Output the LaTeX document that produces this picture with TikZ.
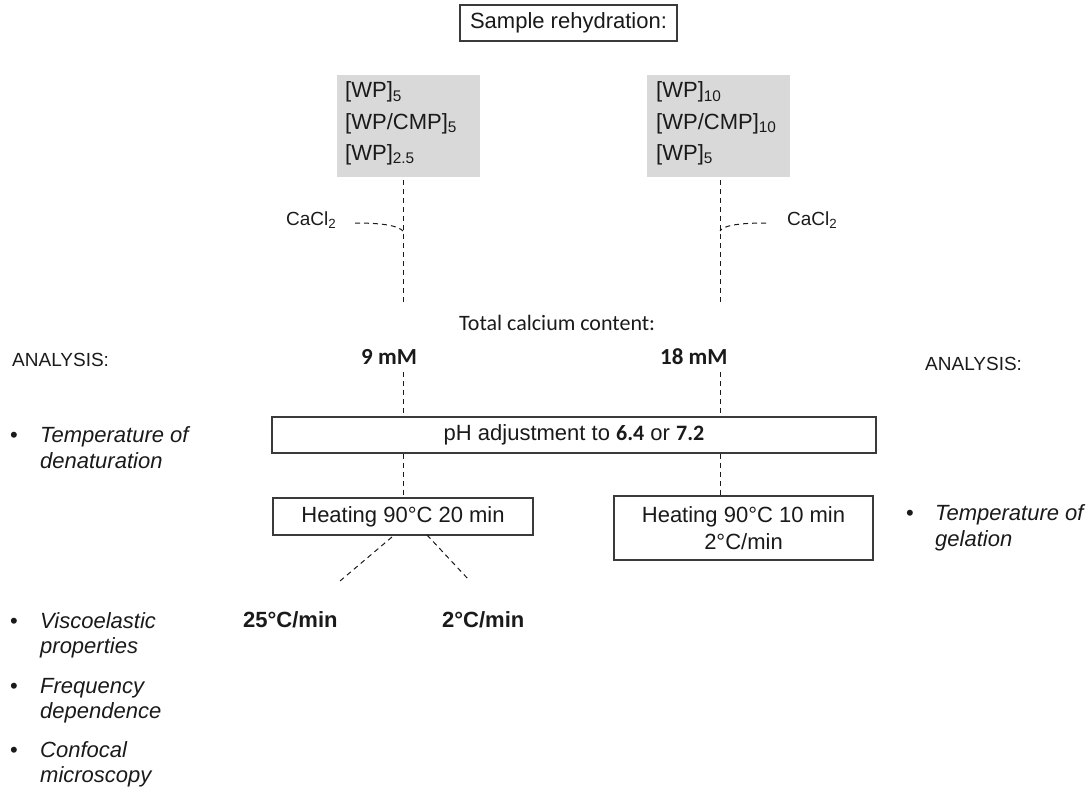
\documentclass[tikz,border=0pt]{standalone}
\usepackage{fontspec}
\setmainfont{Liberation Sans}
\newfontfamily\calfont{Carlito}
\definecolor{ink}{HTML}{1A1A1A}
\definecolor{gfill}{HTML}{D9D9D9}
\definecolor{edge}{HTML}{3A3A3A}
\begin{document}
\begin{tikzpicture}[x=1pt,y=-1pt,
  every node/.style={inner sep=0pt, text=ink},
  f22/.style={font=\fontsize{22}{26}\selectfont},
  f19/.style={font=\fontsize{19}{23}\selectfont},
  fit22/.style={font=\fontsize{22}{26}\selectfont\itshape},
  cal/.style={font=\fontsize{22}{26}\selectfont\calfont},
  calb/.style={font=\fontsize{23}{27}\selectfont\calfont\bfseries},
  box/.style={draw=edge, line width=1.5pt, fill=white, f22, align=center},
  gbox/.style={fill=gfill, draw=none},
  dl/.style={draw=ink, line width=1pt, dash pattern=on 5pt off 4pt}]
\useasboundingbox (0,0) rectangle (1090,792);

% top box
\node[box, minimum width=217, minimum height=36] (top) at (568.5,23) {Sample rehydration:};

% gray boxes
\node[gbox, minimum width=143, minimum height=101] (gl) at (408.5,126) {};
\node[gbox, minimum width=143, minimum height=101] (gr) at (718.5,126) {};
\node[f22, anchor=base west] (gl1) at (345,98) {[WP]\textsubscript{5}};
\node[f22, anchor=base west] (gl2) at (345,129) {[WP/CMP]\textsubscript{5}};
\node[f22, anchor=base west] (gl3) at (345,160) {[WP]\textsubscript{2.5}};
\node[f22, anchor=base west] (gr1) at (656,98) {[WP]\textsubscript{10}};
\node[f22, anchor=base west] (gr2) at (656,129) {[WP/CMP]\textsubscript{10}};
\node[f22, anchor=base west] (gr3) at (656,160) {[WP]\textsubscript{5}};

% CaCl2
\node[f19, anchor=base west] (cl) at (286,225) {CaCl\textsubscript{2}};
\node[f19, anchor=base west] (cr) at (787,225) {CaCl\textsubscript{2}};

% upper dashed lines
\coordinate (lt) at (403,180);
\coordinate (lb) at (403,302);
\coordinate (rt) at (720,180);
\coordinate (rb) at (720,302);
\coordinate (lj) at (403,231);
\coordinate (rj) at (720,231);
\coordinate (lc) at (355,223);
\coordinate (rc) at (766,223);
\draw[dl] (lt) -- (lb);
\draw[dl] (rt) -- (rb);
\draw[dl] (lc) .. controls (385,223) and (398,226) .. (lj);
\draw[dl] (rc) .. controls (736,223) and (723,226) .. (rj);

% calcium content
\node[cal, anchor=base west] (tcc) at (459,330) {Total calcium content:};
\node[calb, anchor=base west] (m9) at (361,364) {9 mM};
\node[calb, anchor=base west] (m18) at (660,364) {18 mM};

% pH box
\node[box, minimum width=604, minimum height=36] (ph) at (574,435)
  {pH adjustment to {\calfont\bfseries 6.4} or {\calfont\bfseries 7.2}};
\coordinate (l9) at (403,372);
\coordinate (r18) at (720,372);
\draw[dl] (l9) -- (l9 |- ph.north);
\draw[dl] (r18) -- (r18 |- ph.north);

% heating boxes
\node[box, minimum width=260, minimum height=37] (hl) at (403,516.5) {Heating 90°C 20 min};
\node[box, minimum width=259, minimum height=64] (hr) at (743.5,528)
  {Heating 90°C 10 min\\[1pt]2°C/min};
\draw[dl] (hl.north |- ph.south) -- (hl.north);
\draw[dl] (r18 |- ph.south) -- (r18 |- hr.north);

% cooling branches
\coordinate (d1s) at (392,537);
\coordinate (d1e) at (340,581);
\coordinate (d2s) at (427,535);
\coordinate (d2e) at (469,580);
\draw[dl] (d1s) -- (d1e);
\draw[dl] (d2s) -- (d2e);
\node[f22, font=\fontsize{22}{26}\selectfont\bfseries, anchor=base west] (c25) at (243,627) {25°C/min};
\node[f22, font=\fontsize{22}{26}\selectfont\bfseries, anchor=base west] (c2) at (442,627) {2°C/min};

% analysis left
\node[f19, anchor=base west] (anl) at (12,366) {ANALYSIS:};
\node[f22, anchor=base] (b1) at (14,442) {•};
\node[fit22, anchor=base west] (t1a) at (40,442) {Temperature of};
\node[fit22, anchor=base west] (t1b) at (40,468) {denaturation};
\node[f22, anchor=base] (b2) at (14,628) {•};
\node[fit22, anchor=base west] (t2a) at (40,628) {Viscoelastic};
\node[fit22, anchor=base west] (t2b) at (40,653) {properties};
\node[f22, anchor=base] (b3) at (14,693) {•};
\node[fit22, anchor=base west] (t3a) at (40,693) {Frequency};
\node[fit22, anchor=base west] (t3b) at (40,718) {dependence};
\node[f22, anchor=base] (b4) at (14,757) {•};
\node[fit22, anchor=base west] (t4a) at (40,757) {Confocal};
\node[fit22, anchor=base west] (t4b) at (40,782) {microscopy};

% analysis right
\node[f19, anchor=base west] (anr) at (925,370) {ANALYSIS:};
\node[f22, anchor=base] (b5) at (910,520) {•};
\node[fit22, anchor=base west] (t5a) at (935,520) {Temperature of};
\node[fit22, anchor=base west] (t5b) at (935,546) {gelation};
\end{tikzpicture}
\end{document}
